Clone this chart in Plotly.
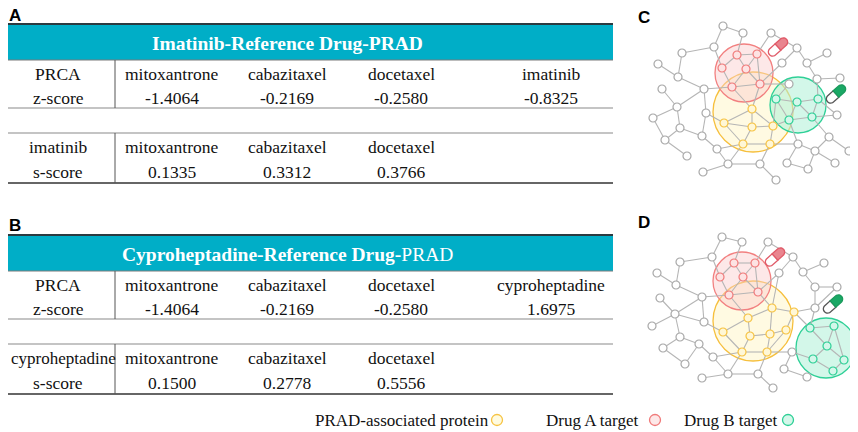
import numpy as np
import plotly.graph_objects as go

# ---- table data ----
row_head_a = ["PRCA", "z-score"]
z_drugs_a = ["mitoxantrone", "cabazitaxel", "docetaxel", "imatinib"]
z_scores_a = [-1.4064, -0.2169, -0.2580, -0.8325]
s_head_a = ["imatinib", "s-score"]
s_drugs_a = ["mitoxantrone", "cabazitaxel", "docetaxel"]
s_scores_a = [0.1335, 0.3312, 0.3766]

row_head_b = ["PRCA", "z-score"]
z_drugs_b = ["mitoxantrone", "cabazitaxel", "docetaxel", "cyproheptadine"]
z_scores_b = [-1.4064, -0.2169, -0.2580, 1.6975]
s_head_b = ["cyproheptadine", "s-score"]
s_drugs_b = ["mitoxantrone", "cabazitaxel", "docetaxel"]
s_scores_b = [0.1500, 0.2778, 0.5556]

legend_labels = ["PRAD-associated protein", "Drug A target", "Drug B target"]

# ---- network data (panel-local coordinates) ----
c_gray = [(143, 26), (163, 33), (191, 33), (134, 47), (102, 53), (217, 48), (247, 53),
          (78, 64), (98, 77), (202, 63), (227, 63), (237, 79), (260, 78), (82, 89),
          (124, 89), (97, 107), (126, 113), (73, 118), (100, 128), (257, 115), (85, 140),
          (122, 136), (137, 149), (107, 156), (218, 144), (249, 137), (269, 151),
          (235, 151), (255, 163), (207, 163), (228, 169), (148, 164), (180, 164),
          (123, 172), (196, 180), (209, 84)]
c_pink = [(157, 55), (177, 54), (142, 68), (166, 69), (152, 87), (180, 84)]
c_yellow = [(172, 109), (144, 123), (172, 127), (193, 126), (163, 144), (190, 144)]
c_green = [(196, 99), (217, 102), (238, 99), (209, 120), (232, 117)]
c_edges = [("g0", "g3"), ("g1", "p0"), ("g2", "p1"), ("g4", "g3"), ("g4", "g8"), ("g7", "g8"),
           ("g8", "g14"), ("g3", "p2"), ("g13", "g15"), ("g15", "g14"), ("g15", "g17"),
           ("g15", "g18"), ("g14", "g16"), ("g14", "p4"), ("g16", "y1"), ("g18", "g20"),
           ("g20", "g23"), ("g21", "g18"), ("g21", "g22"), ("g22", "y4"), ("g31", "y4"),
           ("g31", "g33"), ("g31", "g32"), ("g32", "y5"), ("g32", "g34"), ("y5", "g24"),
           ("g24", "g29"), ("g24", "g27"), ("g27", "g28"), ("g27", "g30"), ("g25", "c4"),
           ("g25", "g26"), ("g25", "g27"), ("g19", "c4"), ("g19", "c2"), ("g11", "c2"),
           ("g12", "g11"), ("g10", "g5"), ("g10", "g6"), ("g10", "g11"), ("g9", "p5"),
           ("g9", "g5"), ("g35", "p5"), ("g35", "c0"), ("g16", "g21"), ("g17", "g20"),
           ("g2", "g5"), ("g0", "g1"), ("g22", "g31"), ("g29", "g30"), ("g24", "c3"),
           ("p0", "p1"), ("p0", "p2"), ("p0", "p3"), ("p1", "p3"), ("p2", "p4"),
           ("p3", "p4"), ("p3", "p5"), ("p1", "p5"), ("p4", "p5"), ("p5", "y0"),
           ("p4", "y0"), ("y0", "y1"), ("y0", "y2"), ("y0", "y3"), ("y1", "y2"),
           ("y2", "y4"), ("y2", "y3"), ("y3", "y5"), ("y4", "y5"), ("y1", "y4"),
           ("y3", "c3"), ("y3", "c0"), ("c0", "c1"), ("c1", "c2"), ("c1", "c3"),
           ("c1", "c4"), ("c2", "c4"), ("c3", "c4"), ("c0", "c3")]

d_gray = [(142, 32), (162, 37), (188, 37), (132, 52), (100, 57), (213, 52), (244, 58),
          (77, 68), (96, 80), (199, 68), (223, 67), (235, 82), (257, 82), (80, 93),
          (122, 92), (95, 109), (124, 117), (72, 121), (100, 132), (83, 143), (119, 139),
          (133, 152), (105, 159), (235, 103), (212, 147), (204, 164), (227, 172),
          (148, 169), (178, 169), (122, 173), (193, 183)]
d_pink = [(154, 58), (175, 58), (140, 72), (163, 72), (149, 90), (178, 87)]
d_yellow = [(192, 103), (214, 107), (168, 113), (143, 127), (170, 131), (190, 129),
            (206, 125), (162, 147), (187, 147)]
d_green = [(230, 123), (254, 121), (247, 141), (233, 154), (264, 155), (253, 166)]
d_edges = [("g0", "g3"), ("g1", "p0"), ("g2", "p1"), ("g4", "g3"), ("g4", "g8"), ("g7", "g8"),
           ("g8", "g14"), ("g3", "p2"), ("g13", "g15"), ("g15", "g14"), ("g15", "g16"),
           ("g15", "g17"), ("g15", "g18"), ("g14", "p4"), ("g14", "g16"), ("g16", "y3"),
           ("g18", "g19"), ("g19", "g22"), ("g20", "g18"), ("g20", "g21"), ("g21", "y7"),
           ("g27", "y7"), ("g27", "g29"), ("g27", "g28"), ("g28", "y8"), ("g28", "g30"),
           ("y8", "g24"), ("g24", "g25"), ("g24", "c3"), ("g25", "g26"), ("g23", "y1"),
           ("g23", "c0"), ("g23", "g12"), ("g11", "g23"), ("g12", "g11"), ("g10", "g5"),
           ("g10", "g6"), ("g10", "g11"), ("g9", "p5"), ("g9", "g5"), ("g9", "y0"),
           ("g2", "g5"), ("g0", "g1"), ("g21", "g27"), ("g22", "g20"),
           ("p0", "p1"), ("p0", "p2"), ("p0", "p3"), ("p1", "p3"), ("p2", "p4"),
           ("p3", "p4"), ("p3", "p5"), ("p1", "p5"), ("p4", "p5"), ("p5", "y0"),
           ("p4", "y2"), ("y0", "y1"), ("y0", "y2"), ("y0", "y5"), ("y1", "y6"),
           ("y2", "y3"), ("y2", "y4"), ("y3", "y7"), ("y4", "y5"), ("y4", "y7"),
           ("y5", "y6"), ("y5", "y8"), ("y7", "y8"), ("y6", "y8"), ("y1", "c0"),
           ("c0", "c1"), ("c0", "c2"), ("c1", "c2"), ("c2", "c3"), ("c2", "c4"),
           ("c3", "c5"), ("c4", "c5"), ("c1", "c4")]

# circle (center x, center y, radius) for yellow / pink / green groups
c_circles = [(173, 112, 40), (164, 73, 29), (218, 105, 28)]
d_circles = [(173, 116, 40), (162, 76, 29), (246, 143, 30)]
c_pills = [(198, 47), (256, 94)]
d_pills = [(195, 52), (253, 99)]

# ---- style ----
TEAL = "#00aec7"
SERIF = "Liberation Serif, Times New Roman, serif"
SANS = "Liberation Sans, Arial, sans-serif"
GRAY_EDGE = "#b5b5b5"
grp_style = {
    "g": ("#ffffff", "#a8a8a8"),
    "p": ("#fde3e3", "#f07a7a"),
    "y": ("#fff7d6", "#f6c343"),
    "c": ("#d4f7ea", "#2ccf95"),
}
circle_style = [("rgba(255,243,190,0.45)", "#f6bf3c"),
                ("rgba(250,205,205,0.45)", "#f28080"),
                ("rgba(175,240,215,0.55)", "#2fd097")]

fig = go.Figure()
shapes = []
annotations = []


def txt(x, y, s, size=17.5, color="#111", font=SERIF, **kw):
    a = dict(x=x, y=y, xref="x", yref="y", text=s, showarrow=False,
             font=dict(family=font, size=size, color=color),
             xanchor="center", yanchor="middle")
    a.update(kw)
    annotations.append(a)


def hline(y, color, w, x0=0, x1=613):
    shapes.append(dict(type="line", x0=x0, x1=x1, y0=y, y1=y, xref="x", yref="y",
                       line=dict(color=color, width=w)))


def vline(x, y0, y1):
    shapes.append(dict(type="line", x0=x, x1=x, y0=y0, y1=y1, xref="x", yref="y",
                       line=dict(color="#555", width=1)))


col_x = [58, 172, 287, 401, 551]


def head_cell(y, s):
    # long row heads would run past the left edge, so pin them to it
    if len(s) > 10:
        txt(9, y, s, size=17, xanchor="left")
    else:
        txt(col_x[0], y, s)


def draw_table(top, letter, title, row_head, z_drugs, z_scores, s_head, s_drugs, s_scores):
    txt(15, max(top - 10, 15), "<b>" + letter + "</b>", size=17, color="#000", font=SANS)
    shapes.append(dict(type="rect", x0=0, x1=613, y0=top, y1=top + 36, xref="x", yref="y",
                       fillcolor=TEAL, line=dict(width=0), layer="below"))
    hline(top, "#2b3a40", 2)
    hline(top + 36, "#7a7a7a", 1)
    txt(287, top + 19, title, size=19.5, color="#ffffff")
    r1, r2 = top + 50, top + 74
    head_cell(r1, row_head[0])
    head_cell(r2, row_head[1])
    for i, d in enumerate(z_drugs):
        txt(col_x[i + 1], r1, d)
        txt(col_x[i + 1], r2, f"{z_scores[i]:.4f}")
    hline(top + 84, "#8a8a8a", 1.2)
    vline(115, top + 36, top + 84)
    hline(top + 109, "#8a8a8a", 1.2)
    r3, r4 = top + 123, top + 148
    head_cell(r3, s_head[0])
    head_cell(r4, s_head[1])
    for i, d in enumerate(s_drugs):
        txt(col_x[i + 1], r3, d)
        txt(col_x[i + 1], r4, f"{s_scores[i]:.4f}")
    hline(top + 159, "#333333", 1.6)
    vline(115, top + 109, top + 159)


draw_table(24, "A", "<b>Imatinib-Reference Drug-PRAD</b>", row_head_a, z_drugs_a,
           z_scores_a, s_head_a, s_drugs_a, s_scores_a)
draw_table(235, "B", "<b>Cyproheptadine-Reference Drug-</b>PRAD", row_head_b, z_drugs_b,
           z_scores_b, s_head_b, s_drugs_b, s_scores_b)


def capsule(cx, cy, length, width, ang_deg):
    a = np.radians(ang_deg)
    u = np.array([np.cos(a), np.sin(a)])
    v = np.array([-np.sin(a), np.cos(a)])
    r = width / 2
    h = length / 2 - r
    c = np.array([cx, cy])
    halves = []
    for sgn in (-1, 1):
        end = c + sgn * h * u
        t = np.linspace(np.pi / 2, 3 * np.pi / 2, 14) if sgn < 0 else np.linspace(-np.pi / 2, np.pi / 2, 14)
        arc = [end + r * (np.cos(tt) * u + np.sin(tt) * v) for tt in t]
        if sgn < 0:
            pts = [c + r * v] + arc + [c - r * v]
        else:
            pts = [c - r * v] + arc + [c + r * v]
        path = "M " + " L ".join(f"{p[0]:.2f},{p[1]:.2f}" for p in pts) + " Z"
        halves.append(path)
    return halves


def draw_network(ox, oy, letter, gray, pink, yellow, green, edges, circles, pills):
    txt(ox + 64, oy + 17, "<b>" + letter + "</b>", size=17, color="#000", font=SANS)
    for (cx, cy, r), (fc, lc) in zip(circles, circle_style):
        shapes.append(dict(type="circle", xref="x", yref="y", x0=ox + cx - r, x1=ox + cx + r,
                           y0=oy + cy - r, y1=oy + cy + r, fillcolor=fc,
                           line=dict(color=lc, width=1.3), layer="below"))
    nodes = {}
    for key, pts in (("g", gray), ("p", pink), ("y", yellow), ("c", green)):
        for i, (x, y) in enumerate(pts):
            nodes[f"{key}{i}"] = (ox + x, oy + y)
    ex, ey = [], []
    for a, b in edges:
        ex += [nodes[a][0], nodes[b][0], None]
        ey += [nodes[a][1], nodes[b][1], None]
    fig.add_trace(go.Scatter(x=ex, y=ey, mode="lines", hoverinfo="skip",
                             line=dict(color=GRAY_EDGE, width=1.1), showlegend=False))
    for key, pts in (("g", gray), ("p", pink), ("y", yellow), ("c", green)):
        fc, lc = grp_style[key]
        fig.add_trace(go.Scatter(x=[ox + p[0] for p in pts], y=[oy + p[1] for p in pts],
                                 mode="markers", showlegend=False, hoverinfo="skip",
                                 marker=dict(size=8, color=fc, line=dict(color=lc, width=1.2))))
    pill_cols = [("#ffffff", "#e05a68", "#e9858f", "#e05a68"),
                 ("#ffffff", "#555555", "#1aa865", "#1a9a5c")]
    for (px, py), (f1, l1, f2, l2) in zip(pills, pill_cols):
        h1, h2 = capsule(ox + px, oy + py, 23, 8.5, -42)
        shapes.append(dict(type="path", path=h1, xref="x", yref="y", fillcolor=f1,
                           line=dict(color=l1, width=1.3)))
        shapes.append(dict(type="path", path=h2, xref="x", yref="y", fillcolor=f2,
                           line=dict(color=l2, width=1.3)))


draw_network(580, 0, "C", c_gray, c_pink, c_yellow, c_green, c_edges, c_circles, c_pills)
draw_network(580, 205, "D", d_gray, d_pink, d_yellow, d_green, d_edges, d_circles, d_pills)

# ---- legend ----
leg_text_x = [402, 592, 730]
leg_mark_x = [497, 655, 788]
leg_cols = [("#fffbe0", "#f6c343"), ("#fde8e8", "#f07a7a"), ("#d4f7ea", "#2ccf95")]
for lab, tx, mx, (fc, lc) in zip(legend_labels, leg_text_x, leg_mark_x, leg_cols):
    txt(tx, 420, lab, size=17)
    fig.add_trace(go.Scatter(x=[mx], y=[420], mode="markers", showlegend=False,
                             hoverinfo="skip",
                             marker=dict(size=11, color=fc, line=dict(color=lc, width=1.3))))

# the page body has an 8px margin, so the figure is 8px smaller and the
# axis window starts at 8 to keep a 1:1 mapping with the reference pixels
fig.update_layout(
    width=850, height=424,
    margin=dict(l=0, r=0, t=0, b=0),
    paper_bgcolor="white", plot_bgcolor="white",
    xaxis=dict(range=[8, 858], visible=False, fixedrange=True),
    yaxis=dict(range=[432, 8], visible=False, fixedrange=True),
    shapes=shapes, annotations=annotations,
)

fig.write_html("out.html")
